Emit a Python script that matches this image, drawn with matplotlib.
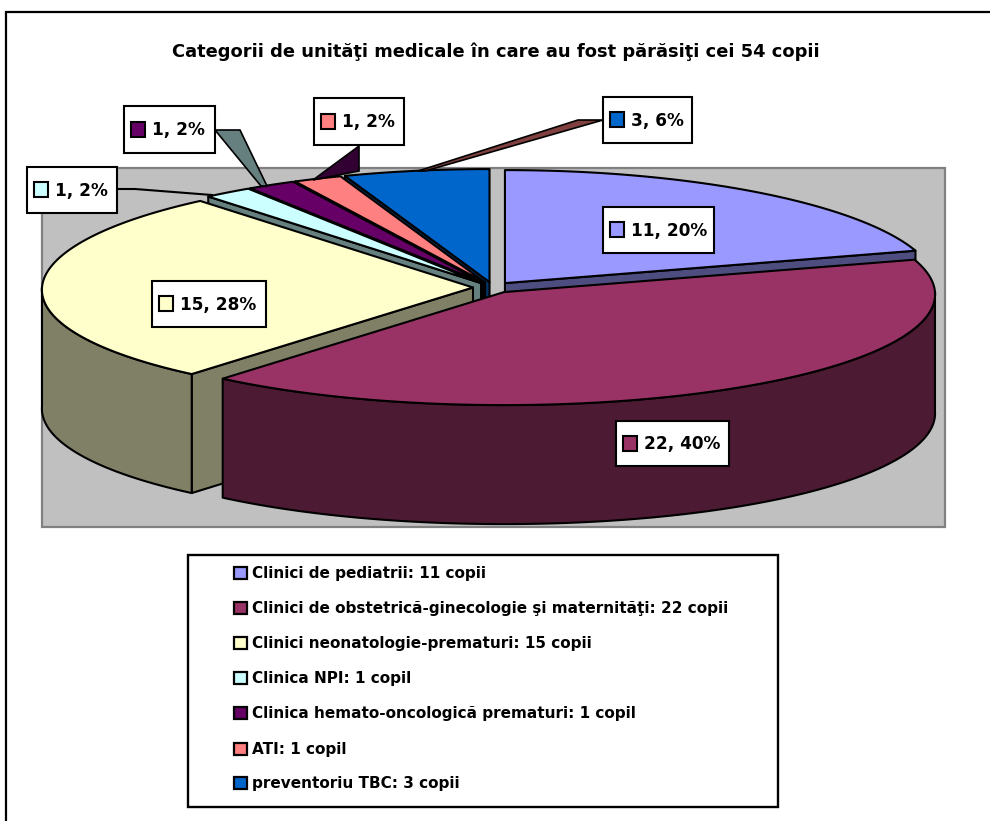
from __future__ import annotations

import matplotlib

matplotlib.use("Agg")
import matplotlib.pyplot as plt
import numpy as np
from matplotlib.patches import Polygon, Rectangle

TITLE = "Categorii de unităţi medicale în care au fost părăsiţi cei 54 copii"
names = [
    "Clinici de pediatrii: 11 copii",
    "Clinici de obstetrică-ginecologie şi maternităţi: 22 copii",
    "Clinici neonatologie-prematuri: 15 copii",
    "Clinica NPI: 1 copil",
    "Clinica hemato-oncologică prematuri: 1 copil",
    "ATI: 1 copil",
    "preventoriu TBC: 3 copii",
]
values = [11, 22, 15, 1, 1, 1, 3]
percents = [20, 40, 28, 2, 2, 2, 6]
colors = ["#9999FF", "#993366", "#FFFFCC", "#CCFFFF", "#660066", "#FF8080", "#0066CC"]
side_colors = ["#4D4D80", "#4D1A33", "#808066", "#668080", "#330033", "#804040", "#003366"]

# pixel layout of the label boxes: x0, y0, x1, y1
label_boxes = [
    (603, 207, 714, 253),
    (616, 421, 729, 466),
    (152, 281, 266, 327),
    (27, 167, 117, 213),
    (124, 106, 215, 153),
    (314, 98, 404, 145),
    (603, 97, 692, 143),
]
legend_rows = [573, 608, 643, 678, 713, 749, 783]

FONT = "DejaVu Sans"
LW = 1.5
CX, CY = 493, 287.5
RX, RY = 431, 113
DEPTH = 119
PERSPECTIVE = 0.02
EXPLODE_X, EXPLODE_Y = 20, 5.5


def rim(cx, cy, angles):
    # angle 0 is at the top, going clockwise; the back of the pie is a bit narrower
    scale = 1 - PERSPECTIVE * np.cos(angles)
    return np.column_stack([cx + RX * scale * np.sin(angles), cy - RY * np.cos(angles)])


def draw_slice(ax, start, end, color, side):
    mid = (start + end) / 2
    cx = CX + EXPLODE_X * np.sin(mid)
    cy = CY - EXPLODE_Y * np.cos(mid)
    apex = np.array([cx, cy])
    down = np.array([0, DEPTH])

    # flat cut faces that look toward the viewer
    for angle, visible in ((end, np.sin(end) > 0), (start, np.sin(start) < 0)):
        if visible:
            corner = rim(cx, cy, np.array([angle]))[0]
            ax.add_patch(Polygon([apex, corner, corner + down, apex + down],
                                 fc=side, ec="k", lw=LW, joinstyle="round"))

    # outer wall, only the front half of the ellipse
    lo, hi = max(start, np.pi / 2), min(end, 3 * np.pi / 2)
    if hi > lo:
        top = rim(cx, cy, np.linspace(lo, hi, 120))
        ax.add_patch(Polygon(np.vstack([top, (top + down)[::-1]]),
                             fc=side, ec="k", lw=LW, joinstyle="round"))

    arc = rim(cx, cy, np.linspace(start, end, 160))
    ax.add_patch(Polygon(np.vstack([apex, arc]), fc=color, ec="k", lw=LW, joinstyle="round"))


def draw_label(ax, box, value, percent, color):
    x0, y0, x1, y1 = box
    ax.add_patch(Rectangle((x0, y0), x1 - x0, y1 - y0, fc="white", ec="k", lw=LW, zorder=6))
    ym = (y0 + y1) / 2
    ax.add_patch(Rectangle((x0 + 7, ym - 7.5), 14, 15, fc=color, ec="k", lw=LW, zorder=7))
    ax.text(x0 + 28, ym + 6, f"{value}, {percent}%", fontsize=12.2, fontweight="bold",
            family=FONT, va="baseline", ha="left", zorder=7)


fig = plt.figure(figsize=(9.9, 8.21), dpi=100)
ax = fig.add_axes([0, 0, 1, 1])
ax.set_xlim(0, 990)
ax.set_ylim(821, 0)
ax.axis("off")

# outer frame runs off the right and bottom of the image
ax.add_patch(Rectangle((6, 12), 1030, 860, fc="white", ec="k", lw=1.6))
ax.add_patch(Rectangle((42, 168), 903, 359, fc="#C0C0C0", ec="#808080", lw=1.6))

ax.text(495.5, 57, TITLE, fontsize=12.85, fontweight="bold", family=FONT, ha="center", va="baseline")

fractions = np.cumsum([0] + values) / sum(values) * 2 * np.pi
for i in (6, 5, 4, 3, 0, 2, 1):
    draw_slice(ax, fractions[i], fractions[i + 1], colors[i], side_colors[i])

# leader lines of the outside labels
ax.add_patch(Polygon([(603, 120), (578, 120), (418, 171), (425, 171)],
                     fc=side_colors[5], ec="k", lw=1.2, zorder=5))
ax.add_patch(Polygon([(359, 146), (359, 171), (313, 180)],
                     fc=side_colors[4], ec="k", lw=1.2, zorder=5))
ax.add_patch(Polygon([(215, 130), (240, 130), (267, 186), (261, 186)],
                     fc=side_colors[3], ec="k", lw=1.2, zorder=5))
ax.plot([117, 135, 212], [189, 189, 195], color="k", lw=1.5, zorder=5)

for box, value, percent, color in zip(label_boxes, values, percents, colors):
    draw_label(ax, box, value, percent, color)

# legend
ax.add_patch(Rectangle((188, 555), 590, 252, fc="white", ec="k", lw=1.7))
for name, color, y in zip(names, colors, legend_rows):
    ax.add_patch(Rectangle((234, y - 6), 13, 12, fc=color, ec="k", lw=1.6))
    ax.text(252, y + 5, name, fontsize=10.95, fontweight="bold", family=FONT, va="baseline", ha="left")

fig.savefig("out.png", dpi=100)
plt.close(fig)
